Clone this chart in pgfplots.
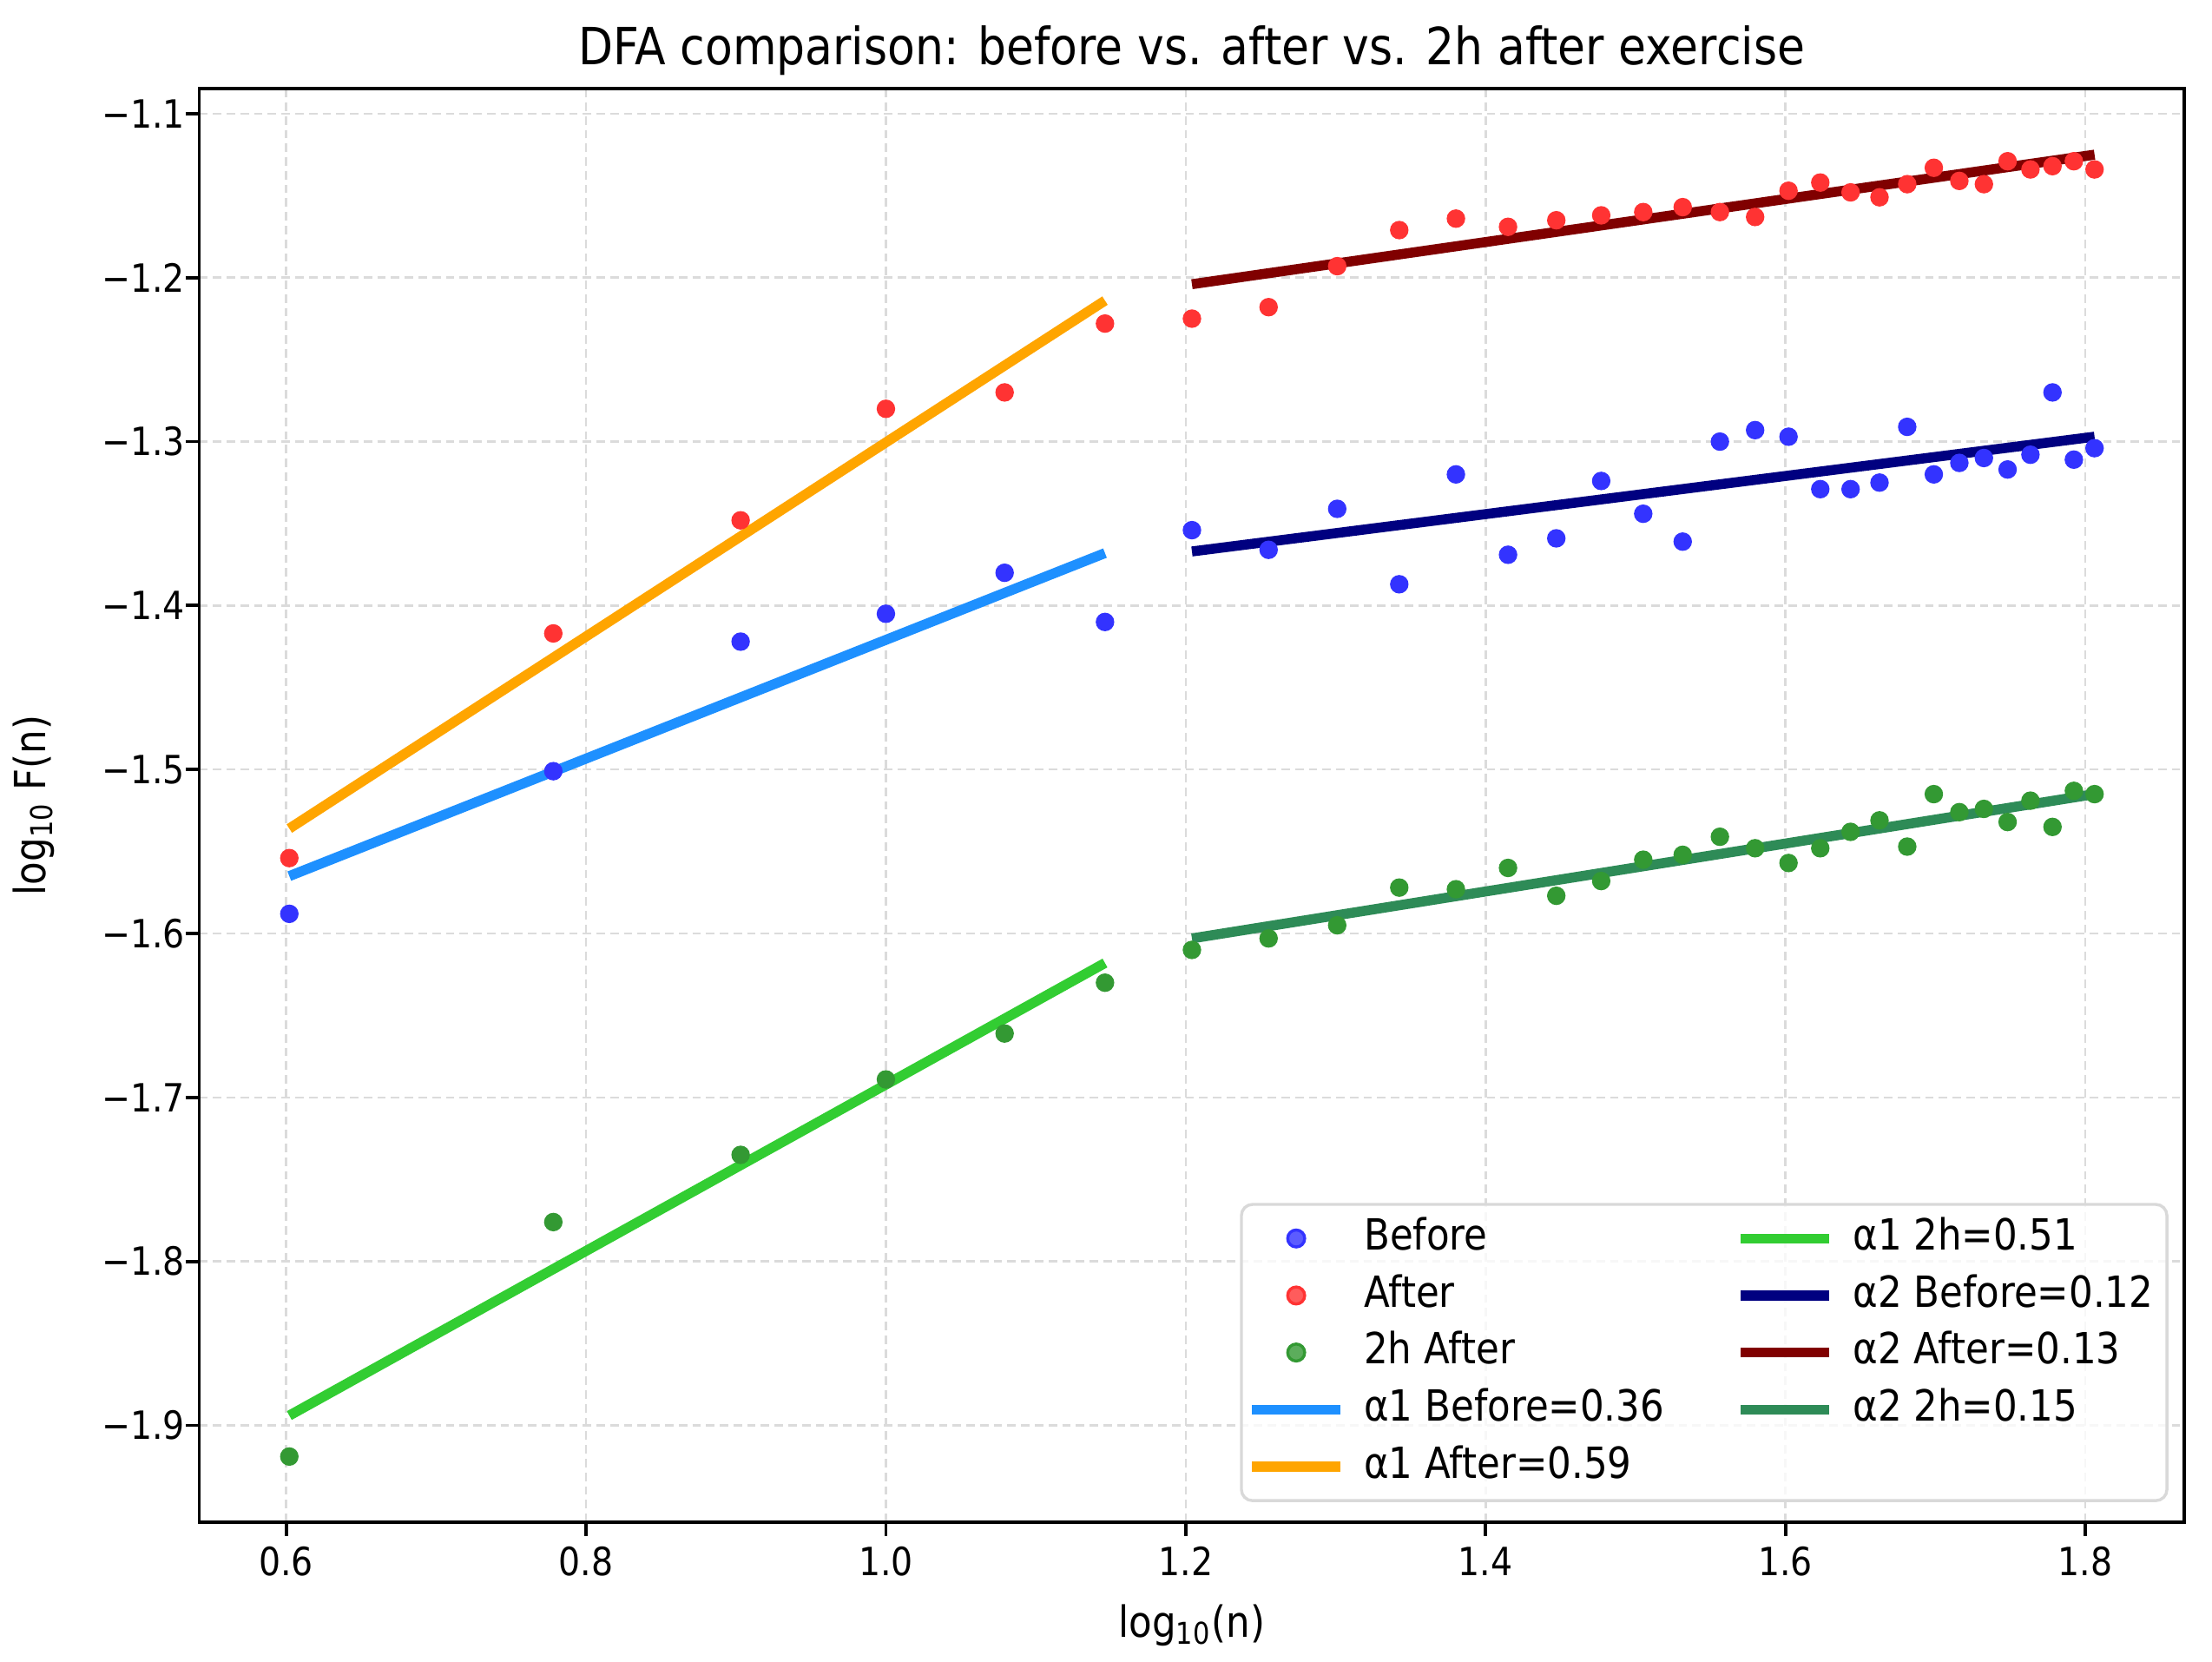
\documentclass[border=0pt]{standalone}
\usepackage{fontspec}
\setmainfont{DejaVu Sans}[FakeStretch=0.88]
\usepackage{pgfplots}
\usepackage{pgfplotstable}
\pgfplotsset{compat=1.18}

\definecolor{ptBefore}{HTML}{3333FF}
\definecolor{ptAfter}{HTML}{FF3333}
\definecolor{ptTwo}{HTML}{339933}
\definecolor{aOneBefore}{HTML}{1E90FF}
\definecolor{aOneAfter}{HTML}{FFA500}
\definecolor{aOneTwo}{HTML}{32CD32}
\definecolor{aTwoBefore}{HTML}{000080}
\definecolor{aTwoAfter}{HTML}{800000}
\definecolor{aTwoTwo}{HTML}{2E8B57}

\pgfplotsset{
  lineleg/.style={line width=2.7pt, legend image code/.code={\draw[##1] (0cm,0cm) -- (0.84cm,0cm);}},
  markleg/.style={only marks, mark=*, mark size=2.3pt, legend image code/.code={\draw[##1] plot coordinates {(0.42cm,0cm)};}},
}

% x = log10(n), columns: before after twoh
\pgfplotstableread{
x before after twoh
0.60206 -1.588 -1.554 -1.919
0.77815 -1.501 -1.417 -1.776
0.90309 -1.422 -1.348 -1.735
1.00000 -1.405 -1.280 -1.689
1.07918 -1.380 -1.270 -1.661
1.14613 -1.410 -1.228 -1.630
1.20412 -1.354 -1.225 -1.610
1.25527 -1.366 -1.218 -1.603
1.30103 -1.341 -1.193 -1.595
1.34242 -1.387 -1.171 -1.572
1.38021 -1.320 -1.164 -1.573
1.41497 -1.369 -1.169 -1.560
1.44716 -1.359 -1.165 -1.577
1.47712 -1.324 -1.162 -1.568
1.50515 -1.344 -1.160 -1.555
1.53148 -1.361 -1.157 -1.552
1.55630 -1.300 -1.160 -1.541
1.57978 -1.293 -1.163 -1.548
1.60206 -1.297 -1.147 -1.557
1.62325 -1.329 -1.142 -1.548
1.64345 -1.329 -1.148 -1.538
1.66276 -1.325 -1.151 -1.531
1.68124 -1.291 -1.143 -1.547
1.69897 -1.320 -1.133 -1.515
1.71600 -1.313 -1.141 -1.526
1.73239 -1.310 -1.143 -1.524
1.74819 -1.317 -1.129 -1.532
1.76343 -1.308 -1.134 -1.519
1.77815 -1.270 -1.132 -1.535
1.79239 -1.311 -1.129 -1.513
1.80618 -1.304 -1.134 -1.515
}\dfadata

\begin{document}
\begin{tikzpicture}
\begin{axis}[
  scale only axis,
  width=18.845cm, height=13.61cm,
  xmin=0.542, xmax=1.866, ymin=-1.959, ymax=-1.0845,
  xtick={0.6,0.8,1.0,1.2,1.4,1.6,1.8},
  xticklabels={0.6,0.8,1.0,1.2,1.4,1.6,1.8},
  ytick={-1.9,-1.8,-1.7,-1.6,-1.5,-1.4,-1.3,-1.2,-1.1},
  yticklabels={−1.9,−1.8,−1.7,−1.6,−1.5,−1.4,−1.3,−1.2,−1.1},
  tick align=outside,
  major tick length=0.13cm,
  xtick pos=bottom, ytick pos=left,
  tick style={black, line width=0.9pt},
  axis line style={black, line width=0.9pt},
  grid=major,
  major grid style={dash pattern=on 2.3pt off 1.4pt, color=black!14, line width=0.6pt},
  ticklabel style={font=\fontsize{10.5}{12}\selectfont},
  xticklabel style={anchor=north, inner sep=0pt, yshift=-0.10cm},
  yticklabel style={anchor=east, inner sep=0pt},
  xlabel={log\textsubscript{10}(n)},
  ylabel={log\textsubscript{10} F(n)},
  label style={font=\fontsize{11.6}{13}\selectfont},
  xlabel style={at={(axis description cs:0.5,-0.0805)}, anchor=base},
  ylabel style={at={(axis description cs:-0.0773,0.5)}, anchor=base},
  every axis title shift=0pt,
  title={DFA comparison: before vs. after vs. 2h after exercise},
  title style={font=\fontsize{13.85}{16}\selectfont, at={(axis description cs:0.5,1.0162)}, anchor=base},
  legend columns=2,
  legend cell align=left,
  legend style={
    at={(axis description cs:1,0)}, anchor=south east,
    xshift=-0.15cm, yshift=0.19cm,
    draw=black!15, line width=0.8pt, rounded corners=3pt,
    fill=white, fill opacity=0.8, text opacity=1, draw opacity=1,
    font=\fontsize{11.6}{13}\selectfont,
    inner sep=1.5pt, row sep=0pt,
    nodes={inner sep=2.2pt, text height=8.6pt, text depth=2.4pt},
    /tikz/column 1/.style={column sep=0.1cm},
    /tikz/column 2/.style={column sep=0.6cm},
    /tikz/column 3/.style={column sep=0.1cm},
  },
]
\coordinate (SW) at (rel axis cs:0,0);
\coordinate (NE) at (rel axis cs:1,1);

% legend, filled row by row to match the column-wise order of the reference
\addlegendimage{markleg, color=ptBefore}
\addlegendentry{Before}
\addlegendimage{lineleg, color=aOneTwo}
\addlegendentry{α1 2h=0.51}
\addlegendimage{markleg, color=ptAfter}
\addlegendentry{After}
\addlegendimage{lineleg, color=aTwoBefore}
\addlegendentry{α2 Before=0.12}
\addlegendimage{markleg, color=ptTwo}
\addlegendentry{2h After}
\addlegendimage{lineleg, color=aTwoAfter}
\addlegendentry{α2 After=0.13}
\addlegendimage{lineleg, color=aOneBefore}
\addlegendentry{α1 Before=0.36}
\addlegendimage{lineleg, color=aTwoTwo}
\addlegendentry{α2 2h=0.15}
\addlegendimage{lineleg, color=aOneAfter}
\addlegendentry{α1 After=0.59}

% scatter points
\addplot[forget plot, only marks, mark=*, mark size=2.3pt, color=ptBefore] table[x=x, y=before] {\dfadata};
\addplot[forget plot, only marks, mark=*, mark size=2.3pt, color=ptAfter] table[x=x, y=after] {\dfadata};
\addplot[forget plot, only marks, mark=*, mark size=2.3pt, color=ptTwo] table[x=x, y=twoh] {\dfadata};

% alpha1 fits (short scales)
\addplot[forget plot, no marks, line width=2.7pt, color=aOneBefore] coordinates {(0.60206,-1.565) (1.14613,-1.368)};
\addplot[forget plot, no marks, line width=2.7pt, color=aOneAfter] coordinates {(0.60206,-1.536) (1.14613,-1.214)};
\addplot[forget plot, no marks, line width=2.7pt, color=aOneTwo] coordinates {(0.60206,-1.894) (1.14613,-1.618)};
% alpha2 fits (long scales)
\addplot[forget plot, no marks, line width=2.7pt, color=aTwoBefore] coordinates {(1.20412,-1.367) (1.80618,-1.297)};
\addplot[forget plot, no marks, line width=2.7pt, color=aTwoAfter] coordinates {(1.20412,-1.204) (1.80618,-1.125)};
\addplot[forget plot, no marks, line width=2.7pt, color=aTwoTwo] coordinates {(1.20412,-1.603) (1.80618,-1.515)};
\end{axis}
\pgfresetboundingbox
\path ([shift={(-1.892cm,-1.327cm)}]SW) rectangle ([shift={(0.264cm,0.838cm)}]NE);
\end{tikzpicture}
\end{document}
